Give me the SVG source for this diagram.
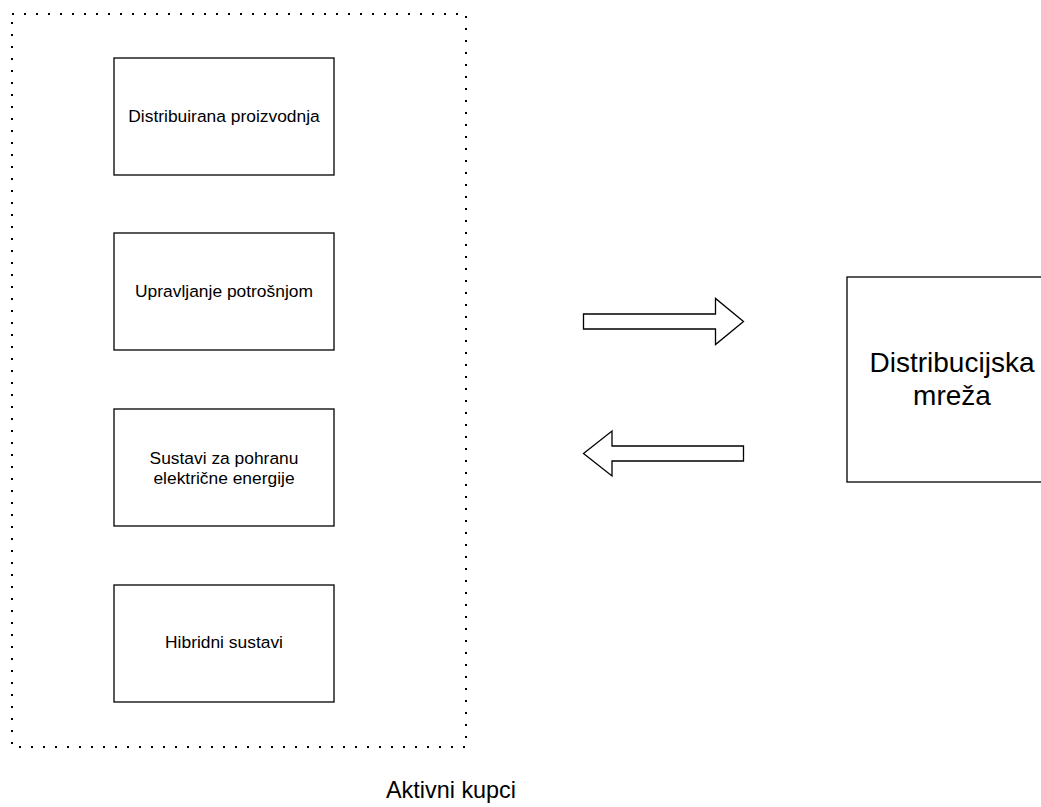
<svg xmlns="http://www.w3.org/2000/svg" width="1041" height="807" viewBox="0 0 1041 807">
<style>
.box{fill:#fff;stroke:#000;stroke-width:1.3}
.arrow{fill:#fff;stroke:#000;stroke-width:1.3;stroke-linejoin:miter}
.lbl{font-family:"Liberation Sans",Arial,sans-serif;fill:#000;text-anchor:middle}
.s{font-size:17.4px}
.l{font-size:28px}
.m{font-size:23.4px}
</style>
<rect width="1041" height="807" fill="#fff"/>
<g id="aktivni-kupci">
<rect x="12" y="14" width="454" height="733" fill="none" stroke="#000" stroke-width="2" stroke-dasharray="2 10"/>
<text class="lbl m" x="451" y="798">Aktivni kupci</text>
</g>
<g id="node-distribuirana">
<rect class="box" x="114" y="58" width="220" height="117"/>
<text class="lbl s" x="224" y="122">Distribuirana proizvodnja</text>
</g>
<g id="node-upravljanje">
<rect class="box" x="114" y="233" width="220" height="117"/>
<text class="lbl s" x="224" y="297">Upravljanje potrošnjom</text>
</g>
<g id="node-sustavi">
<rect class="box" x="114" y="409" width="220" height="117"/>
<text class="lbl s" x="224" y="464">Sustavi za pohranu</text>
<text class="lbl s" x="224" y="484">električne energije</text>
</g>
<g id="node-hibridni">
<rect class="box" x="114" y="585" width="220" height="117"/>
<text class="lbl s" x="224" y="648">Hibridni sustavi</text>
</g>
<g id="node-mreza">
<rect class="box" x="847" y="277" width="210" height="205"/>
<text class="lbl l" x="952" y="372">Distribucijska</text>
<text class="lbl l" x="952" y="405">mreža</text>
</g>
<g id="connectors">
<polygon class="arrow" points="583.5,314 715.5,314 715.5,298.5 743.5,321.5 715.5,344.5 715.5,329 583.5,329"/>
<polygon class="arrow" points="583.5,453.5 612,431 612,446 743.5,446 743.5,461 612,461 612,476"/>
</g>
</svg>
